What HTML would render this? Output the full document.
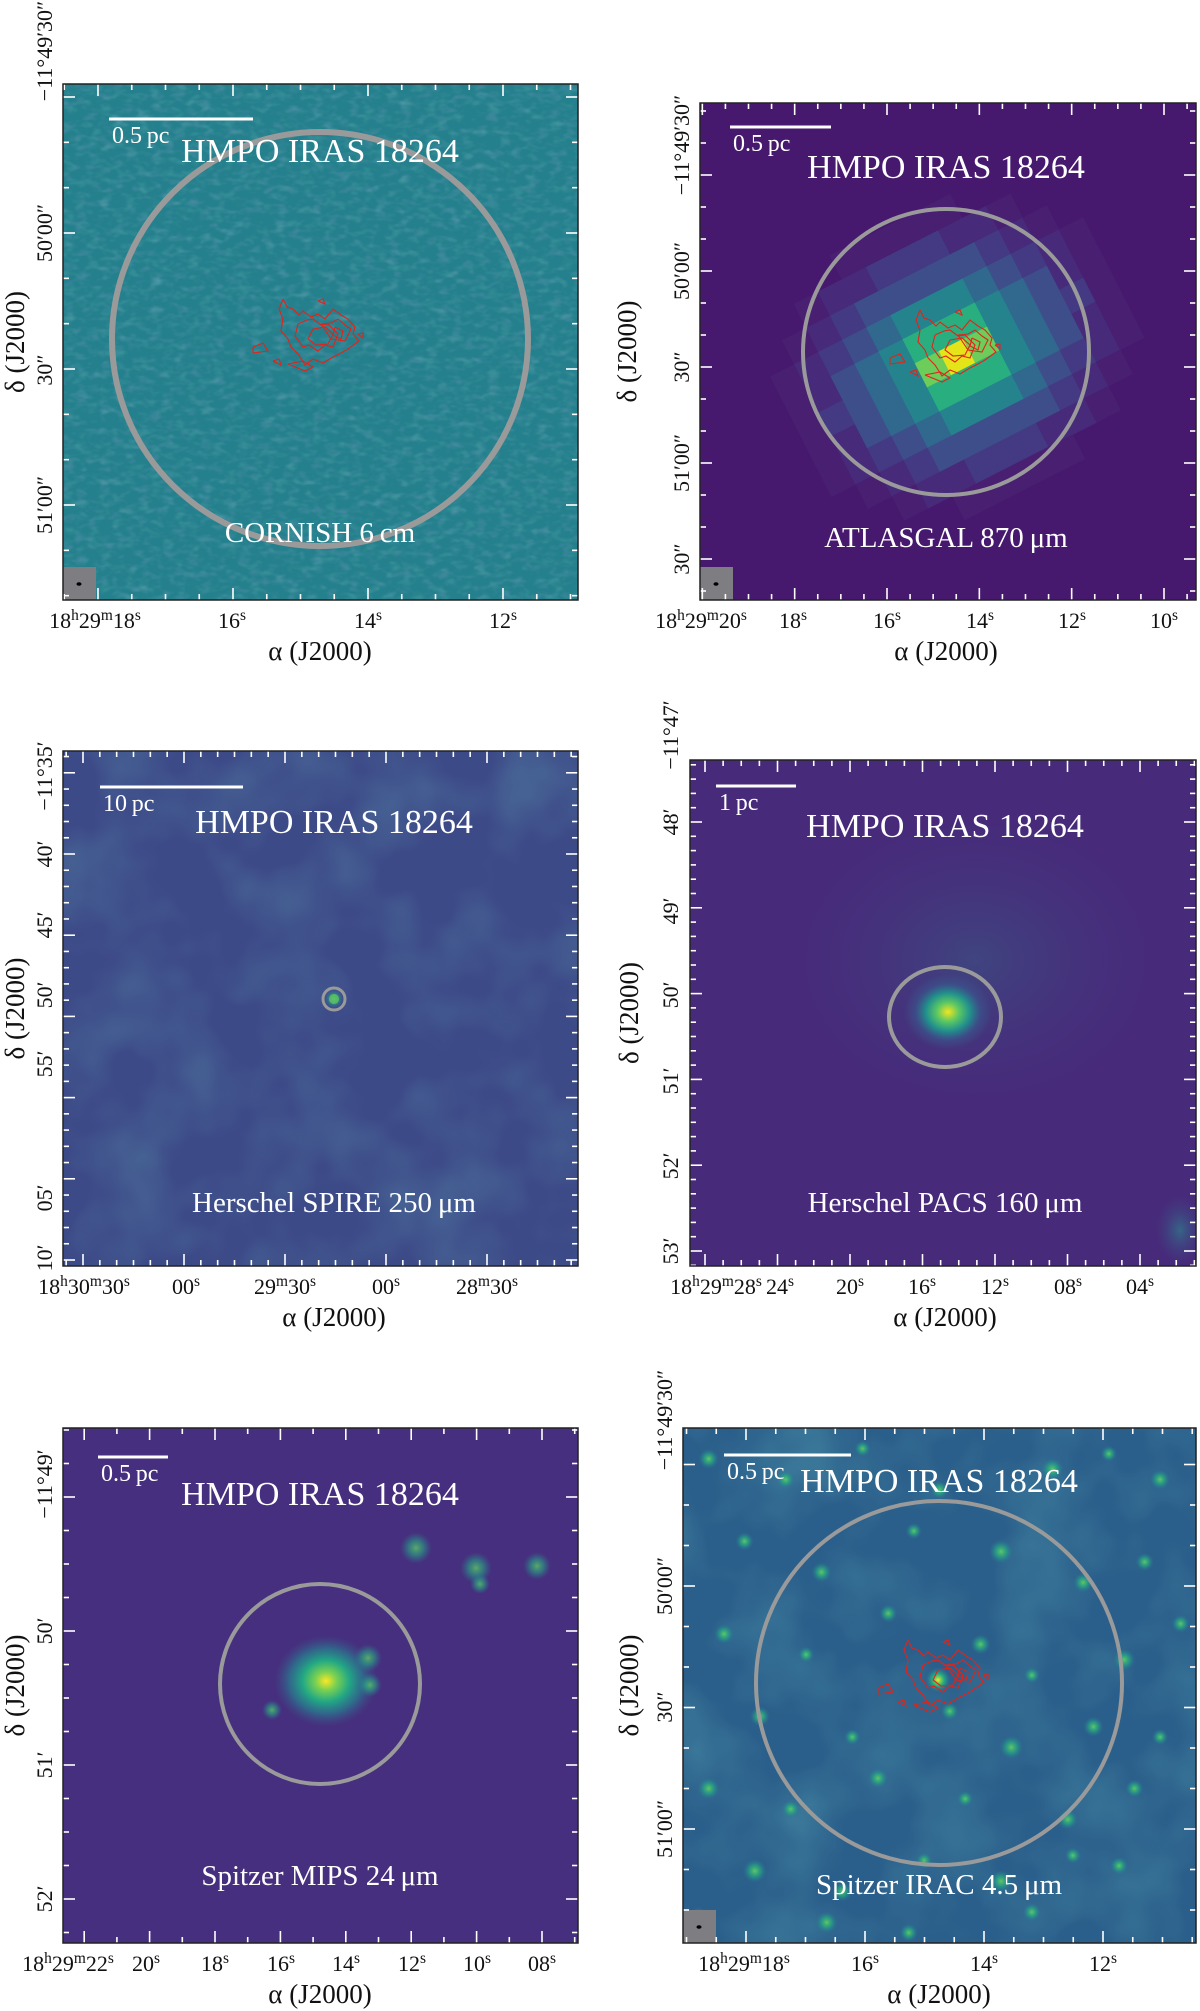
<!DOCTYPE html>
<html><head><meta charset="utf-8"><title>HMPO IRAS 18264 multiwavelength panels</title>
<style>html,body{margin:0;padding:0;background:#fff}svg{display:block}text{font-family:"Liberation Serif",serif}</style>
</head><body>
<svg id="fig" xmlns="http://www.w3.org/2000/svg" width="1200" height="2011" viewBox="0 0 1200 2011">
<defs>
<filter id="noise" x="0" y="0" width="100%" height="100%">
<feTurbulence type="fractalNoise" baseFrequency="0.08 0.14" numOctaves="2" seed="3"/>
<feColorMatrix type="matrix" values="0 0 0 0 0.2  0 0 0 0 0.6  0 0 0 0 0.55  0 0 0 1.6 -0.8"/>
</filter>
<filter id="noiseDark" x="0" y="0" width="100%" height="100%">
<feTurbulence type="fractalNoise" baseFrequency="0.08 0.14" numOctaves="2" seed="11"/>
<feColorMatrix type="matrix" values="0 0 0 0 0.22  0 0 0 0 0.35  0 0 0 0 0.55  0 0 0 1.6 -0.8"/>
</filter>
<filter id="noise2" x="0" y="0" width="100%" height="100%">
<feTurbulence type="fractalNoise" baseFrequency="0.012" numOctaves="3" seed="7"/>
<feColorMatrix type="matrix" values="0 0 0 0 0.15  0 0 0 0 0.55  0 0 0 0 0.55  0 0 0 1.4 -0.55"/>
</filter>
<radialGradient id="gPacs"><stop offset="0" stop-color="#f3e51f"/><stop offset="0.25" stop-color="#5cc863"/><stop offset="0.5" stop-color="#21918c"/><stop offset="0.75" stop-color="#3b528b" stop-opacity="0.7"/><stop offset="1" stop-color="#3b528b" stop-opacity="0"/></radialGradient>
<radialGradient id="gMips"><stop offset="0" stop-color="#fde725"/><stop offset="0.2" stop-color="#7ad151"/><stop offset="0.45" stop-color="#22a884"/><stop offset="0.7" stop-color="#2a788e" stop-opacity="0.8"/><stop offset="1" stop-color="#3b528b" stop-opacity="0"/></radialGradient>
<radialGradient id="gDot"><stop offset="0" stop-color="#5ec962"/><stop offset="0.5" stop-color="#25a586" stop-opacity="0.7"/><stop offset="1" stop-color="#2a788e" stop-opacity="0"/></radialGradient>
<radialGradient id="gGlow"><stop offset="0" stop-color="#2a8c8e" stop-opacity="0.6"/><stop offset="1" stop-color="#3b528b" stop-opacity="0"/></radialGradient>
</defs>
</svg>
<script>
const NS="http://www.w3.org/2000/svg";
const svg=document.getElementById('fig');
function el(tag,attrs,parent){const e=document.createElementNS(NS,tag);for(const k in attrs)e.setAttribute(k,attrs[k]);(parent||svg).appendChild(e);return e;}
function rich(t,str){
  const parts=str.split(/(\^[a-z])/);
  parts.forEach(p=>{if(!p)return;const s=document.createElementNS(NS,'tspan');
    if(p[0]==='^'){s.setAttribute('baseline-shift','super');s.setAttribute('font-size','70%');s.textContent=p[1];}
    else s.textContent=p;t.appendChild(s);});
}

const p1XLabels=["18^h29^m18^s","16^s","14^s","12^s"];
const p1YLabels=["\u221211\u00b049\u203230\u2033","50\u203200\u2033","30\u2033","51\u203200\u2033"];
const p2XLabels=["18^h29^m20^s","18^s","16^s","14^s","12^s","10^s"];
const p2YLabels=["\u221211\u00b049\u203230\u2033","50\u203200\u2033","30\u2033","51\u203200\u2033","30\u2033"];
const p3XLabels=["18^h30^m30^s","00^s","29^m30^s","00^s","28^m30^s"];
const p3YLabels=["\u221211\u00b035\u2032","40\u2032","45\u2032","50\u2032","55\u2032","05\u2032","10\u2032"];
const p4XLabels=["18^h29^m28^s","24^s","20^s","16^s","12^s","08^s","04^s"];
const p4YLabels=["\u221211\u00b047\u2032","48\u2032","49\u2032","50\u2032","51\u2032","52\u2032","53\u2032"];
const p5XLabels=["18^h29^m22^s","20^s","18^s","16^s","14^s","12^s","10^s","08^s"];
const p5YLabels=["\u221211\u00b049\u2032","50\u2032","51\u2032","52\u2032"];
const p6XLabels=["18^h29^m18^s","16^s","14^s","12^s"];
const p6YLabels=["\u221211\u00b049\u203230\u2033","50\u203200\u2033","30\u2033","51\u203200\u2033"];

const panels=[
 {id:'cornish',x:63,y:84,w:515,h:516,bg:'#25808d',label:'CORNISH 6\u2009cm',title:'HMPO IRAS 18264',
  xl:p1XLabels,xt:[95,232,368,503],yl:p1YLabels,yt:[51,233,370,505],ytick:[97,233,370,505],xminor:4,yminor:3,ylx:45,dx:15,
  bar:[109,253,119],lab:532,tt:150,circ:[320,339,208,207],beam:true,contour:[313,339]},
 {id:'atlasgal',x:700,y:103,w:496,h:497,bg:'#46186e',label:'ATLASGAL 870\u2009\u03bcm',title:'HMPO IRAS 18264',
  xl:p2XLabels,xt:[701,793,887,980,1072,1164],yl:p2YLabels,yt:[145,271,367,463,559],ytick:[175,271,367,463,559],xminor:4,yminor:3,ylx:682,dx:627,
  bar:[730,831,127],lab:537,tt:166,circ:[946,352,143,143],beam:true,contour:[950,350]},
 {id:'spire',x:63,y:751,w:515,h:515,bg:'#3d4a88',label:'Herschel SPIRE 250\u2009\u03bcm',title:'HMPO IRAS 18264',
  xl:p3XLabels,xt:[84,186,285,386,487],yl:p3YLabels,yt:[776,854,925,995,1064,1198,1258],ytick:[786,854,925,995,1064,1198,1260],xminor:6,yminor:5,ylx:45,dx:15,
  bar:[100,243,787],lab:1202,tt:821,circ:[334,999,11,11]},
 {id:'pacs',x:690,y:760,w:506,h:506,bg:'#472a7a',label:'Herschel PACS 160\u2009\u03bcm',title:'HMPO IRAS 18264',
  xl:p4XLabels,xt:[716,780,850,922,995,1068,1140],yl:p4YLabels,yt:[735,822,911,995,1081,1166,1251],ytick:[760,822,911,995,1081,1166,1251],xminor:4,yminor:6,ylx:671,dx:629,
  bar:[716,796,786],lab:1202,tt:825,circ:[945,1017,56,50]},
 {id:'mips',x:63,y:1428,w:515,h:515,bg:'#462f7e',label:'Spitzer MIPS 24\u2009\u03bcm',title:'HMPO IRAS 18264',
  xl:p5XLabels,xt:[68,146,215,281,346,412,477,542],yl:p5YLabels,yt:[1484,1631,1765,1899],ytick:[1496,1631,1765,1899],xminor:2,yminor:4,ylx:45,dx:15,
  bar:[98,168,1457],lab:1875,tt:1493,circ:[320,1684,100,100]},
 {id:'irac',x:683,y:1428,w:513,h:515,bg:'#2b5f8b',label:'Spitzer IRAC 4.5\u2009\u03bcm',title:'HMPO IRAS 18264',
  xl:p6XLabels,xt:[744,865,984,1103],yl:p6YLabels,yt:[1420,1586,1707,1829],ytick:[1465,1586,1707,1829],xminor:4,yminor:3,ylx:665,dx:629,
  bar:[724,851,1455],lab:1884,tt:1480,circ:[939,1683,183,182],beam:true,contour:[938,1680]}
];

const iracDotX=[0.05,0.2,0.35,0.5,0.72,0.83,0.93,0.12,0.27,0.45,0.62,0.78,0.9,0.08,0.24,0.4,0.58,0.68,0.86,0.97,0.15,0.33,0.52,0.64,0.8,0.93,0.05,0.21,0.38,0.55,0.75,0.88,0.14,0.31,0.47,0.62,0.85,0.03,0.28,0.68,0.76,0.44];
const iracDotY=[0.06,0.1,0.04,0.12,0.08,0.05,0.1,0.22,0.28,0.2,0.24,0.3,0.26,0.4,0.44,0.36,0.42,0.48,0.45,0.38,0.56,0.6,0.55,0.62,0.58,0.6,0.7,0.74,0.68,0.72,0.76,0.7,0.86,0.9,0.84,0.88,0.85,0.95,0.96,0.94,0.83,0.98];
const iracDotR=[10,9,8,9,11,8,10,9,10,8,12,10,9,10,8,9,10,8,11,9,10,8,9,12,10,8,11,9,10,8,10,9,12,10,8,11,9,10,11,9,8,9];

panels.forEach((p,i)=>{
  const g=el('g',{});
  
  
  const cid='clip'+i;
  const cp=el('clipPath',{id:cid},g);el('rect',{x:p.x,y:p.y,width:p.w,height:p.h},cp);
  const img=el('g',{'clip-path':'url(#'+cid+')'},g);
  
  
  el('rect',{x:p.x,y:p.y,width:p.w,height:p.h,fill:p.bg},img);
  const cx=p.circ[0],cy=p.circ[1];
  if(p.id==='cornish'){
    el('rect',{x:p.x,y:p.y,width:p.w,height:p.h,filter:'url(#noiseDark)',opacity:0.5},img);
    el('rect',{x:p.x,y:p.y,width:p.w,height:p.h,filter:'url(#noise)',opacity:0.35},img);
  }
  if(p.id==='atlasgal'){
    const rg=el('g',{transform:`translate(957,357) rotate(-27)`},img);
    const cols=['#46186e','#481f71','#472a7a','#443983','#3d4e8a','#31688e','#25838e','#29af7f','#6ccd5a','#e5e419'];
    for(let a=-6;a<=6;a++)for(let b=-6;b<=6;b++){
      const d=Math.sqrt(a*a*0.8+b*b*1.2);
      const k=Math.max(0,9-Math.round(d*1.45));
      if(k<1)continue;
      el('rect',{x:a*27-13.5,y:b*27-13.5,width:27.5,height:27.5,fill:cols[k]},rg);
    }
  }
  if(p.id==='spire'){
    el('rect',{x:p.x,y:p.y,width:p.w,height:p.h,filter:'url(#noise2)',opacity:0.3},img);
    el('circle',{cx:334,cy:999,r:5,fill:'#c8e020'},img);
    el('circle',{cx:334,cy:999,r:9,fill:'url(#gDot)'},img);
  }
  if(p.id==='pacs'){
    el('ellipse',{cx:975,cy:960,rx:190,ry:150,fill:'url(#gGlow)',opacity:0.45},img);
    el('ellipse',{cx:948,cy:1012,rx:44,ry:38,fill:'url(#gPacs)'},img);
    el('ellipse',{cx:1180,cy:1230,rx:25,ry:35,fill:'url(#gGlow)'},img);
  }
  if(p.id==='mips'){
    el('ellipse',{cx:326,cy:1681,rx:52,ry:46,fill:'url(#gMips)'},img);
    [[368,1658,14],[370,1685,12],[272,1710,10],[416,1548,16],[476,1568,16],[537,1566,14],[480,1584,10]].forEach(d=>el('circle',{cx:d[0],cy:d[1],r:d[2],fill:'url(#gDot)',opacity:0.8},img));
  }
  if(p.id==='irac'){
    el('rect',{x:p.x,y:p.y,width:p.w,height:p.h,filter:'url(#noise2)',opacity:0.35},img);
    iracDotX.forEach((fx,j)=>{const d=el('circle',{cx:p.x+fx*p.w,cy:p.y+iracDotY[j]*p.h,r:iracDotR[j],fill:'url(#gDot)'},img);
      
      });
    el('circle',{cx:938,cy:1680,r:14,fill:'url(#gMips)'},img);
  }
  if(p.contour){
    const cg=el('g',{fill:'none',stroke:'#e2231a','stroke-width':1.1},img);
    
    
    const [ox,oy]=p.contour;
    const shapes=[[-30,-40,-26,-32,-20,-30,-14,-24,-10,-28,-2,-22,5,-25,12,-20,20,-30,28,-24,35,-20,42,-12,40,-5,46,2,35,10,28,14,20,18,10,24,0,20,-8,26,-15,15,-22,8,-25,0,-32,-8,-30,-20,-34,-30,-30,-40],
      [-15,-15,-6,-19,0,-20,8,-14,15,-15,25,-5,20,8,12,6,5,12,-4,6,-10,8,-18,-3,-15,-15],
      [0,-10,12,-12,20,-5,15,5,3,6,-5,0,0,-10],
      [8,-15,18,-16,25,-20,32,-14,38,-10,32,2,18,0,8,-15],
      [22,-12,30,-8,28,0,20,-4,22,-12],
      [-60,8,-50,4,-45,12,-60,14,-60,8],
      [-25,25,-10,22,0,28,-8,32,-25,25],
      [-40,22,-34,20,-32,26,-40,22],[5,-38,10,-40,12,-35,5,-38],[45,-5,50,-6,50,-1,45,-5]];
    shapes.forEach(s=>{let d='M'+(ox+s[0])+' '+(oy+s[1]);for(let k=2;k<s.length;k+=2)d+=' L'+(ox+s[k])+' '+(oy+s[k+1]);el('path',{d:d},cg);});
  }
  const c=el('ellipse',{cx:cx,cy:cy,rx:p.circ[2],ry:p.circ[3],fill:'none',stroke:'#9a9a9a','stroke-width':p.circ[2]<20?3:(p.id==='cornish'?6:4)},g);
  
  
  if(p.beam){
    const b=el('rect',{x:p.x,y:p.y+p.h-33,width:33,height:33,fill:'#7d7d82'},g);
    
    
    el('ellipse',{cx:p.x+16,cy:p.y+p.h-16,rx:2.5,ry:1.8,fill:'#000'},g);
  }
  const sb=el('line',{x1:p.bar[0],x2:p.bar[1],y1:p.bar[2],y2:p.bar[2],stroke:'#fff','stroke-width':3},g);
  
  
  const sbt=el('text',{x:p.bar[0]+3,y:p.bar[2]+24,fill:'#fff','font-size':24},g);
  sbt.textContent=p.id==='pacs'?'1\u2009pc':(p.id==='spire'?'10\u2009pc':'0.5\u2009pc');
  
  
  const tt=el('text',{x:cx,y:p.tt+12,fill:'#fff','font-size':34,'text-anchor':'middle'},g);
  tt.textContent=p.title;
  
  
  const lb=el('text',{x:cx,y:p.lab+10,fill:'#fff','font-size':29,'text-anchor':'middle'},g);
  lb.textContent=p.label;
  
  
  const tk=el('g',{stroke:'#fff','stroke-width':1.6},g);
  function xticks(arr,sub){
    const step=(arr[arr.length-1]-arr[2])/(arr.length-3)/sub;
    let start=arr[2];while(start-step>=p.x)start-=step;
    for(let x=start;x<=p.x+p.w;x+=step){
      const r=((x-arr[2])/step)%sub;const major=Math.abs(r)<0.01||Math.abs(Math.abs(r)-sub)<0.01;
      const L=major?12:6;
      el('line',{x1:x,x2:x,y1:p.y+p.h,y2:p.y+p.h-L},tk);el('line',{x1:x,x2:x,y1:p.y,y2:p.y+L},tk);}
  }
  function yticks(arr,sub){
    const step=(arr[arr.length-1]-arr[1])/(arr.length-2)/sub;
    let start=arr[1];while(start-step>=p.y)start-=step;
    for(let y=start;y<=p.y+p.h;y+=step){
      const r=((y-arr[1])/step)%sub;const major=Math.abs(r)<0.01||Math.abs(Math.abs(r)-sub)<0.01;
      const L=major?12:6;
      el('line',{x1:p.x,x2:p.x+L,y1:y,y2:y},tk);el('line',{x1:p.x+p.w,x2:p.x+p.w-L,y1:y,y2:y},tk);}
  }
  xticks(p.xt,p.xminor);yticks(p.ytick,p.yminor);
  el('rect',{x:p.x,y:p.y,width:p.w,height:p.h,fill:'none',stroke:'#222','stroke-width':1.5},g);
  p.xl.forEach((s,j)=>{const t=el('text',{x:p.xt[j],y:p.y+p.h+28,'font-size':22,'text-anchor':'middle',fill:'#111'},g);rich(t,s);
    
    });
  p.yl.forEach((s,j)=>{const t=el('text',{x:0,y:0,'font-size':22,'text-anchor':'middle',fill:'#111',transform:`translate(${p.ylx+7},${p.yt[j]}) rotate(-90)`},g);t.textContent=s;
    
    });
  const ax=el('text',{x:cx,y:p.y+p.h+60,'font-size':27,'text-anchor':'middle',fill:'#111'},g);
  ax.textContent='\u03b1 (J2000)';
  
  
  const ay=el('text',{x:0,y:0,'font-size':27,'text-anchor':'middle',fill:'#111',transform:`translate(${p.dx+9},${p.y+p.h/2}) rotate(-90)`},g);
  ay.textContent='\u03b4 (J2000)';
  
  
});
</script>
</body></html>
